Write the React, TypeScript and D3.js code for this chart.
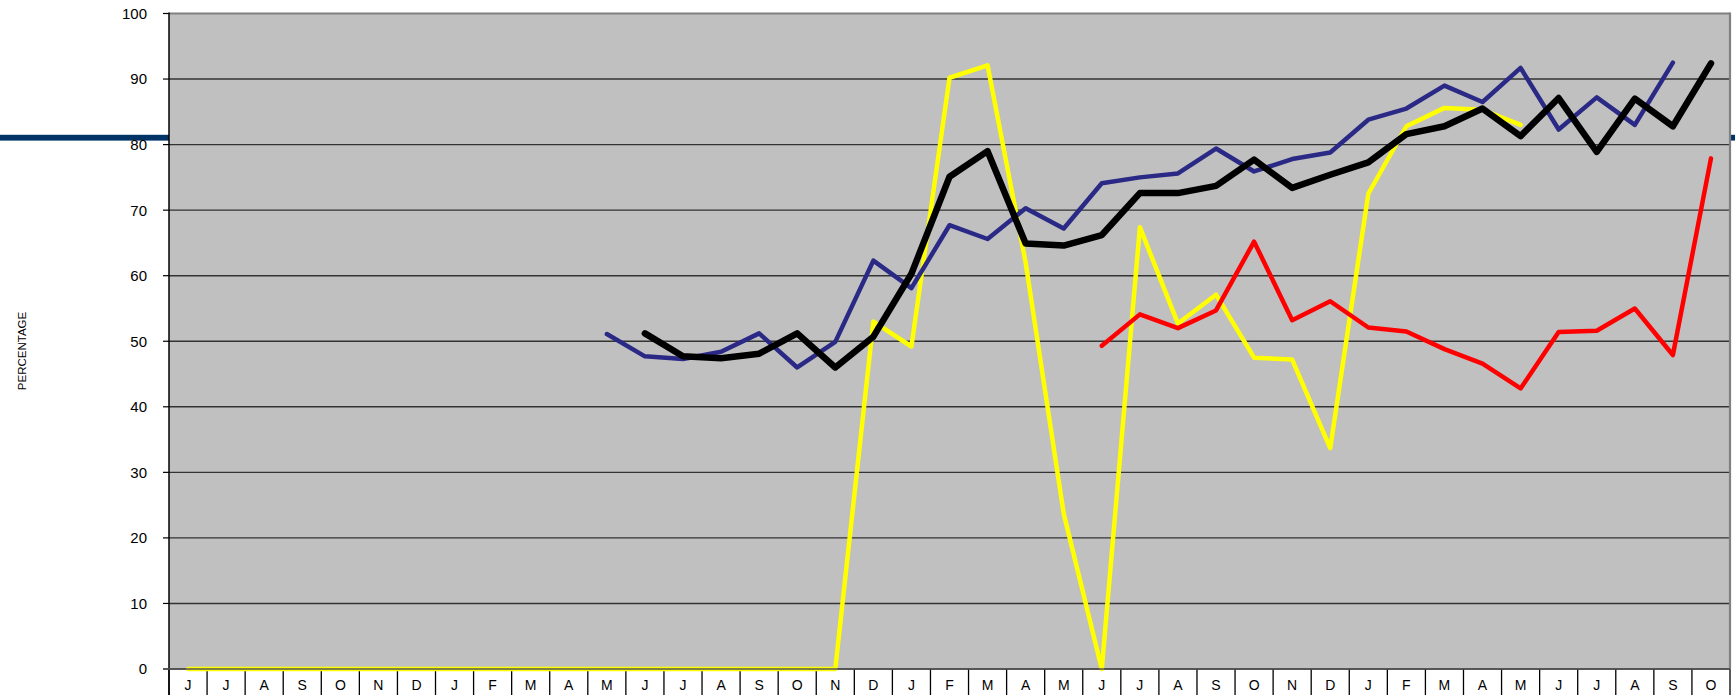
import React from "react";
import * as d3 from "d3";

const months: string[] = [
  "J","J","A","S","O","N","D",
  "J","F","M","A","M","J","J","A","S","O","N","D",
  "J","F","M","A","M","J","J","A","S","O","N","D",
  "J","F","M","A","M","J","J","A","S","O",
];

const yTicks: number[] = [0, 10, 20, 30, 40, 50, 60, 70, 80, 90, 100];

type V = number | null;

// navy series (starts at index 11, ends at index 39)
const navySeries: V[] = [
  null,null,null,null,null,null,null,null,null,null,null,
  51.1,47.7,47.3,48.4,51.2,46.0,49.9,62.3,58.1,67.7,65.6,70.3,67.2,74.1,75.0,75.6,79.4,75.9,77.8,78.8,83.8,85.5,89.0,86.5,91.7,82.3,87.2,83.0,92.5,
  null,
];

// yellow series (index 0..35)
const yellowSeries: V[] = [
  0,0,0,0,0,0,0,0,0,0,0,0,0,0,0,0,0,0,
  53.0,49.2,90.2,92.1,62.0,23.7,0,67.4,52.7,57.1,47.5,47.2,33.7,72.5,82.8,85.6,85.3,83.0,
  null,null,null,null,null,
];

// red series (index 24..40)
const redSeries: V[] = [
  null,null,null,null,null,null,null,null,null,null,null,null,
  null,null,null,null,null,null,null,null,null,null,null,null,
  49.3,54.1,52.0,54.7,65.2,53.2,56.1,52.1,51.5,48.8,46.6,42.8,51.4,51.6,55.0,47.9,77.9,
];

// black series (index 12..40)
const blackSeries: V[] = [
  null,null,null,null,null,null,null,null,null,null,null,null,
  51.2,47.7,47.4,48.1,51.2,46.0,50.7,60.3,75.1,79.0,64.9,64.6,66.2,72.6,72.6,73.7,77.7,73.4,75.4,77.3,81.6,82.8,85.5,81.3,87.1,78.9,87.0,82.8,92.4,
];

const W = 1735;
const H = 695;
const plotLeft = 169;
const plotRight = 1730;
const plotTop = 13.5;
const plotBottom = 669;

export default function App() {
  const idx = months.map((_, i) => i);
  const x = d3.scaleBand<number>().domain(idx).range([plotLeft, plotRight]).padding(0);
  const y = d3.scaleLinear().domain([0, 100]).range([plotBottom, plotTop]);
  const cx = (i: number) => (x(i) as number) + x.bandwidth() / 2;

  const mk = (arr: V[]) =>
    d3
      .line<V>()
      .defined((d) => d !== null)
      .x((_, i) => cx(i))
      .y((d) => y(d as number))(arr) || "";

  const series = [
    { data: yellowSeries, color: "#FFFF00", width: 4.5 },
    { data: navySeries, color: "#2A2A86", width: 4.5 },
    { data: redSeries, color: "#FF0000", width: 4.5 },
    { data: blackSeries, color: "#000000", width: 6.5 },
  ];

  return (
    <svg
      width={W}
      height={H}
      style={{ position: "absolute", left: 0, top: 0, background: "#fff" }}
      fontFamily="'Liberation Sans', Arial, sans-serif"
    >
      {/* navy decorative bar behind the chart */}
      <rect x={0} y={134.8} width={W} height={5.8} fill="#003366" />

      {/* plot background */}
      <rect
        x={plotLeft}
        y={plotTop}
        width={plotRight - plotLeft}
        height={plotBottom - plotTop}
        fill="#C0C0C0"
      />

      {/* gridlines */}
      {yTicks.map((t) => (
        <line
          key={"g" + t}
          x1={plotLeft}
          x2={plotRight}
          y1={y(t)}
          y2={y(t)}
          stroke={t === 100 ? "#808080" : "#333333"}
          strokeWidth={t === 100 ? 2.2 : 1.4}
        />
      ))}

      {/* right border */}
      <line x1={plotRight} x2={plotRight} y1={plotTop - 1} y2={plotBottom} stroke="#808080" strokeWidth={2.2} />

      {/* y ticks and labels */}
      {yTicks.map((t) => (
        <g key={"t" + t}>
          <line x1={plotLeft - 6} x2={plotLeft} y1={y(t)} y2={y(t)} stroke="#000" strokeWidth={1.2} />
          <text
            x={147}
            y={y(t)}
            dy="0.36em"
            textAnchor="end"
            fontSize={15}
            fill="#000"
          >
            {t}
          </text>
        </g>
      ))}

      {/* y axis label */}
      <text
        transform={`translate(${26},${351}) rotate(-90)`}
        textAnchor="middle"
        fontSize={11.5}
        fill="#000"
      >
        PERCENTAGE
      </text>

      {/* category row */}
      {idx.map((i) => (
        <line
          key={"d" + i}
          x1={x(i) as number}
          x2={x(i) as number}
          y1={plotBottom}
          y2={H}
          stroke="#000"
          strokeWidth={1.3}
        />
      ))}
      <line x1={plotRight} x2={plotRight} y1={plotBottom} y2={H} stroke="#000" strokeWidth={1.3} />
      {months.map((m, i) => (
        <text
          key={"m" + i}
          x={cx(i)}
          y={690}
          textAnchor="middle"
          fontSize={14}
          fill="#000"
        >
          {m}
        </text>
      ))}

      {/* series lines */}
      {series.map((s, k) => (
        <path
          key={"s" + k}
          d={mk(s.data)}
          fill="none"
          stroke={s.color}
          strokeWidth={s.width}
          strokeLinejoin="round"
          strokeLinecap="round"
        />
      ))}

      {/* axes */}
      <line x1={plotLeft} x2={plotLeft} y1={plotTop - 1} y2={H} stroke="#000" strokeWidth={1.5} />
      <line x1={plotLeft - 6} x2={plotRight} y1={plotBottom} y2={plotBottom} stroke="#555" strokeWidth={1.5} />
    </svg>
  );
}
